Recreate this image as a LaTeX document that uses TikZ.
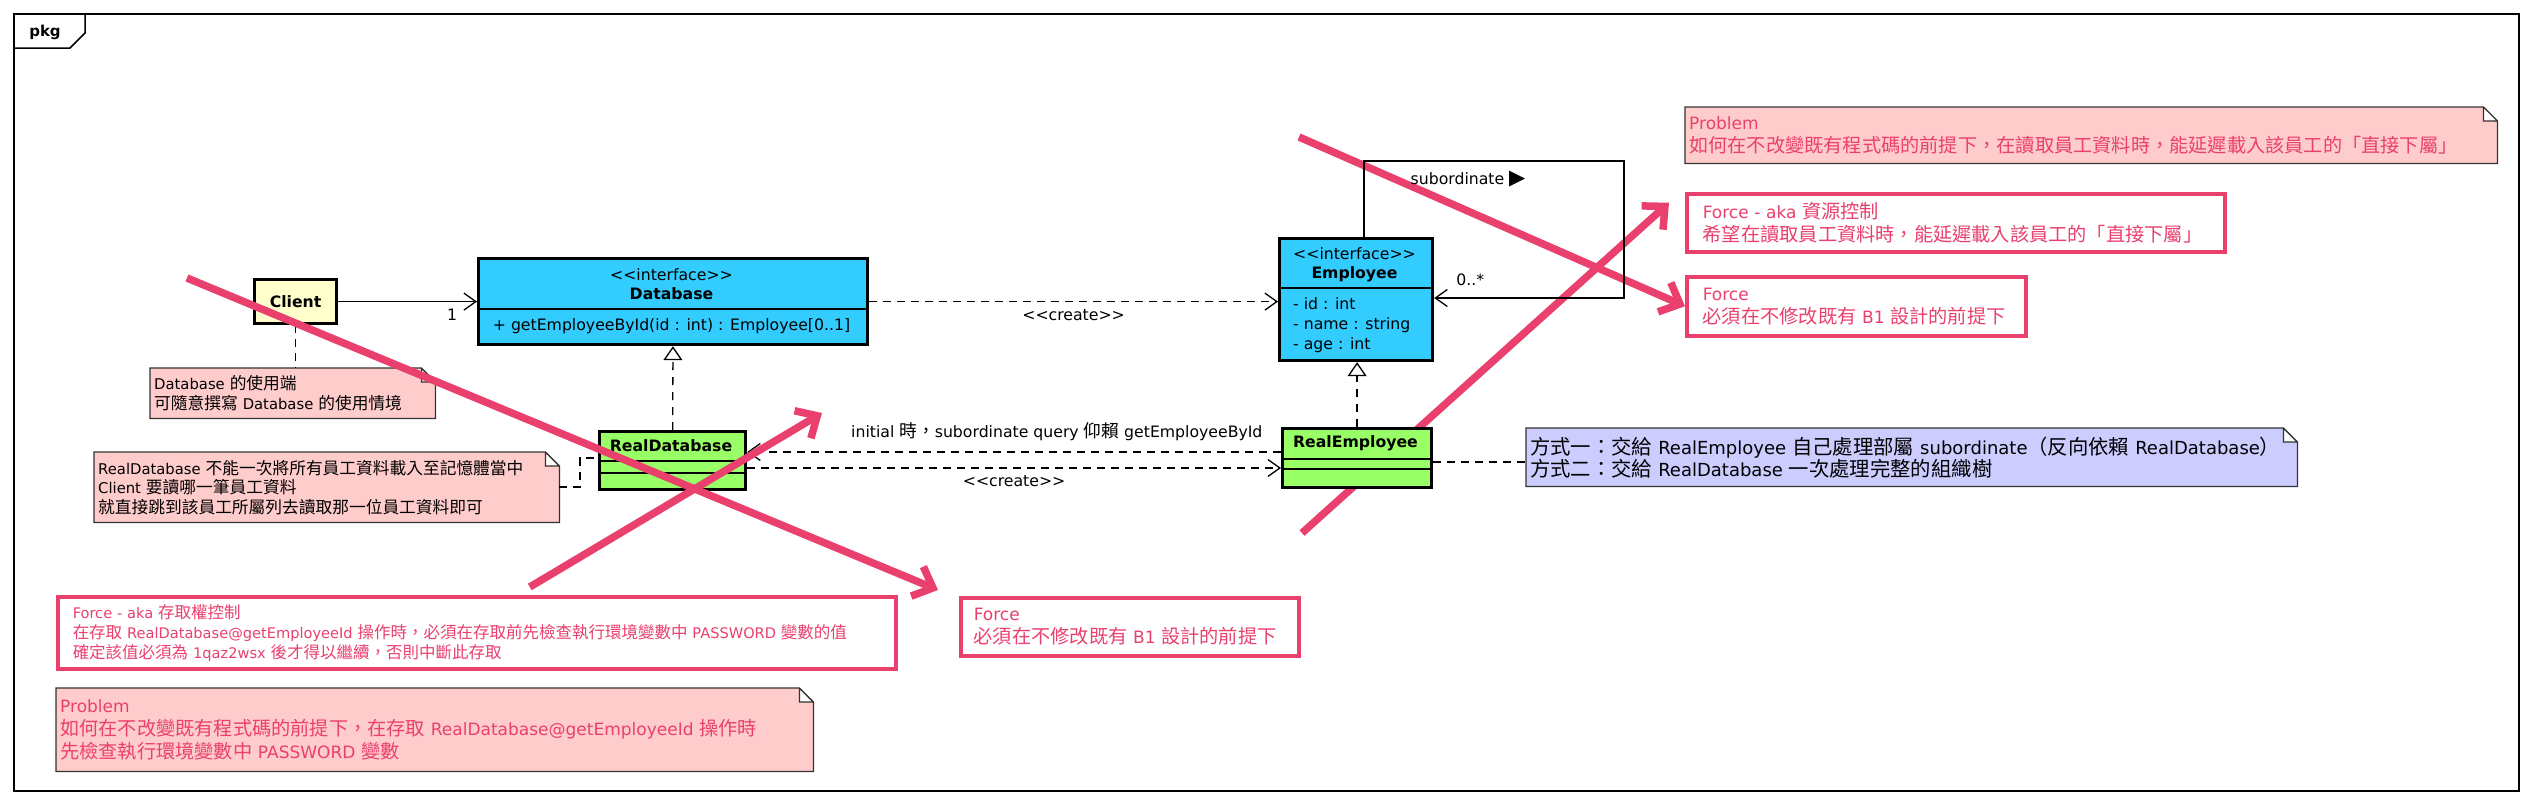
\documentclass[tikz,border=0pt]{standalone}
\usepackage{fontspec}
\setmainfont{DejaVu Sans}[Ligatures=TeXOff]
\newfontfamily\cjkfont{Noto Sans CJK TC}[Scale=1.13]
\usepackage{tikz}
\usetikzlibrary{arrows.meta,backgrounds}

\definecolor{clsblue}{RGB}{51,204,255}
\definecolor{clsgreen}{RGB}{153,255,102}
\definecolor{clsyellow}{RGB}{255,255,204}
\definecolor{notepink}{RGB}{255,204,204}
\definecolor{noteblue}{RGB}{204,204,255}
\definecolor{forcered}{RGB}{234,64,110}

% every run of CJK characters switches to the CJK family
\XeTeXinterchartokenstate=1
\newXeTeXintercharclass\cjkclass
\count255="2E80
\loop\XeTeXcharclass\count255=\cjkclass
  \ifnum\count255<"9FFF \advance\count255 by 1 \repeat
\count255="FF00
\loop\XeTeXcharclass\count255=\cjkclass
  \ifnum\count255<"FFEF \advance\count255 by 1 \repeat
\XeTeXinterchartoks 0 \cjkclass={\begingroup\cjkfont}
\XeTeXinterchartoks 4095 \cjkclass={\begingroup\cjkfont}
\XeTeXinterchartoks \cjkclass 0={\endgroup}
\XeTeXinterchartoks \cjkclass 4095={\endgroup}

\tikzset{
  cls/.style={draw, line width=3.2pt, anchor=north west, inner sep=0pt},
  clsfont/.style={font=\fontsize{15.7}{20}\selectfont, inner sep=0pt},
  clsbold/.style={font=\fontsize{15.7}{20}\selectfont\bfseries, inner sep=0pt},
  divider/.style={line width=1.5pt},
  note/.style={anchor=north west, inner xsep=4pt, inner ysep=0pt, align=left,
    font=\fontsize{14.8}{19.5}\selectfont},
  redtext/.style={text=forcered, font=\fontsize{17}{23}\selectfont},
  force/.style={draw=forcered, line width=3.5pt, fill=white, anchor=north west,
    inner xsep=16pt, inner ysep=0pt, align=left, redtext},
  noteline/.style={draw=black!80, line width=1.3pt},
  notelink/.style={line width=1.2pt, dash pattern=on 8pt off 6pt},
  assoc/.style={line width=1.3pt, -{Straight Barb[length=12pt,width=17pt]}},
  dep/.style={assoc, dash pattern=on 8pt off 6pt},
  real/.style={line width=1.3pt, dash pattern=on 8pt off 7pt,
    -{Triangle[open,length=14pt,width=19pt]}},
  lbl/.style={font=\fontsize{15.7}{20}\selectfont, inner sep=0pt},
  cross/.style={draw=forcered, line width=7.5pt,
    -{Straight Barb[length=17pt,width=32pt]}}
}

\begin{document}
\begin{tikzpicture}[x=1pt, y=-1pt]
\useasboundingbox (0,0) rectangle (2533,804);

% package frame
\draw[line width=1.5pt] (14,14) rectangle (2519,791);
\draw[line width=1.5pt] (14,48) -- (70,48) -- (85,33) -- (85,14);
\node[clsbold, font=\fontsize{15}{18}\selectfont\bfseries] (pkg) at (45,32) {pkg};

% classes
\node[cls, fill=clsyellow, minimum width=82pt, minimum height=44pt, clsbold] (client) at (253,278) {Client};

\node[cls, fill=clsblue, minimum width=389pt, minimum height=86pt] (db) at (477,257) {};
\draw[divider] (db.west |- 0,309) -- (db.east |- 0,309);
\node[clsfont] (dbstereo) at (671.5,275) {<<interface>>};
\node[clsbold] (dbname) at (671.5,294) {Database};
\node[clsfont] (dbop) at (671.5,326) {+ getEmployeeById(id : int) : Employee[0..1]};

\node[cls, fill=clsblue, minimum width=153pt, minimum height=122pt] (emp) at (1278,237) {};
\draw[divider] (emp.west |- 0,288) -- (emp.east |- 0,288);
\node[clsfont] (empstereo) at (1354.5,254) {<<interface>>};
\node[clsbold] (empname) at (1354.5,274) {Employee};
\node[clsfont, anchor=west, align=left] (empattr) at (1293,325) {- id : int\\- name : string\\- age : int};

\node[cls, fill=clsgreen, minimum width=146pt, minimum height=58pt] (rdb) at (598,430) {};
\draw[divider] (rdb.west |- 0,461) -- (rdb.east |- 0,461) (rdb.west |- 0,473) -- (rdb.east |- 0,473);
\node[clsbold] (rdbname) at (671,446) {RealDatabase};

\node[cls, fill=clsgreen, minimum width=149pt, minimum height=59pt] (remp) at (1281,427) {};
\draw[divider] (remp.west |- 0,459) -- (remp.east |- 0,459) (remp.west |- 0,469) -- (remp.east |- 0,469);
\node[clsbold] (rempname) at (1355.5,443) {RealEmployee};

% notes
\node[note, text width=277pt, minimum height=50pt] (cnote) at (150,368)
  {\mbox{Database 的使用端}\\\mbox{可隨意撰寫 Database 的使用情境}};
\node[note, text width=457pt, minimum height=70pt] (rdnote) at (94,452)
  {\mbox{RealDatabase 不能一次將所有員工資料載入至記憶體當中}\\\mbox{Client 要讀哪一筆員工資料}\\就直接跳到該員工所屬列去讀取那一位員工資料即可};
\node[note, font=\fontsize{18}{22}\selectfont, text width=763pt, minimum height=58pt] (renote) at (1526,428)
  {\mbox{方式一：交給 RealEmployee 自己處理部屬 subordinate（反向依賴 RealDatabase）}\\\mbox{方式二：交給 RealDatabase 一次處理完整的組織樹}};
\node[note, redtext, text width=804pt, minimum height=56pt] (probA) at (1685,107)
  {Problem\\如何在不改變既有程式碼的前提下，在讀取員工資料時，能延遲載入該員工的「直接下屬」};
\node[note, redtext, text width=749pt, minimum height=83pt] (probB) at (56,688)
  {Problem\\\mbox{如何在不改變既有程式碼的前提下，在存取 RealDatabase@getEmployeeId 操作時}\\\mbox{先檢查執行環境變數中 PASSWORD 變數}};

% forces
\node[force, text width=506pt, minimum height=58pt] (forceA) at (1685,192)
  {\mbox{Force - aka 資源控制}\\希望在讀取員工資料時，能延遲載入該員工的「直接下屬」};
\node[force, text width=307pt, minimum height=59pt] (forceB) at (1685,275)
  {Force\\\mbox{必須在不修改既有 B1 設計的前提下}};
\node[force, inner xsep=15pt, font=\fontsize{14.6}{20}\selectfont, text width=808pt, minimum height=72pt] (forceC) at (56,595)
  {\mbox{Force - aka 存取權控制}\\\mbox{在存取 RealDatabase@getEmployeeId 操作時，必須在存取前先檢查執行環境變數中 PASSWORD 變數的值}\\\mbox{確定該值必須為 1qaz2wsx 後才得以繼續，否則中斷此存取}};
\node[force, inner xsep=13pt, text width=312pt, minimum height=58pt] (forceD) at (959,596)
  {Force\\\mbox{必須在不修改既有 B1 設計的前提下}};

% relations
\draw[assoc] (client) -- node[lbl, pos=0.82, below=7pt] {1} (db);
\draw[dep] (db.east) -- node[lbl, below=7pt] {<<create>>} (emp.west |- db.east);
\draw[real] (rdb) -- (db);
\draw[real] (remp.north) -- (remp.north |- emp.south);
\draw[dep] (remp.west |- 0,452) -- node[lbl, pos=0.42, above=11pt] {initial 時，subordinate query 仰賴 getEmployeeById} (rdb.east |- 0,452);
\draw[dep] (rdb.east |- 0,468) -- node[lbl, below=7pt] {<<create>>} (remp.west |- 0,468);
\draw[assoc] (emp.north -| 1364,0) -- (1364,161)
  -- node[lbl, pos=0.4, below=9pt] {subordinate {\fontsize{21}{21}\selectfont ▶}} (1624,161) -- (1624,298)
  -- node[lbl, pos=0.81, above=12pt] {0..*} (emp.east |- 0,298);

\draw[notelink] (client) -- (client |- cnote.north);
\draw[notelink] (rdnote.east |- 0,487) -| (580,458) -- (rdb.west |- 0,458);
\draw[notelink] (remp.east |- 0,462) -- (renote.west |- 0,462);

% crossing strokes
\coordinate (xa) at (187,278);
\coordinate (xb) at (822,413);
\coordinate (xc) at (1299,137);
\coordinate (xd) at (1302,533);
\draw[cross] (xa) -- ([xshift=-21pt,yshift=6pt]forceD.north west);
\draw[cross] ([xshift=53pt,yshift=8pt]forceC.north) -- (xb);

\begin{scope}[on background layer]
  \draw[cross] (xc) -- (forceB.west);
  \draw[cross] (xd) -- ([xshift=-16pt,yshift=20pt]forceA.west);
  \foreach \n/\c in {cnote/notepink, rdnote/notepink, renote/noteblue, probA/notepink, probB/notepink}
    \draw[noteline, fill=\c] (\n.north west) -- ([xshift=-14pt]\n.north east)
      -- ([yshift=-14pt]\n.north east) -- (\n.south east) -- (\n.south west) -- cycle
      ([xshift=-14pt]\n.north east) |- ([yshift=-14pt]\n.north east);
\end{scope}
\end{tikzpicture}
\end{document}
